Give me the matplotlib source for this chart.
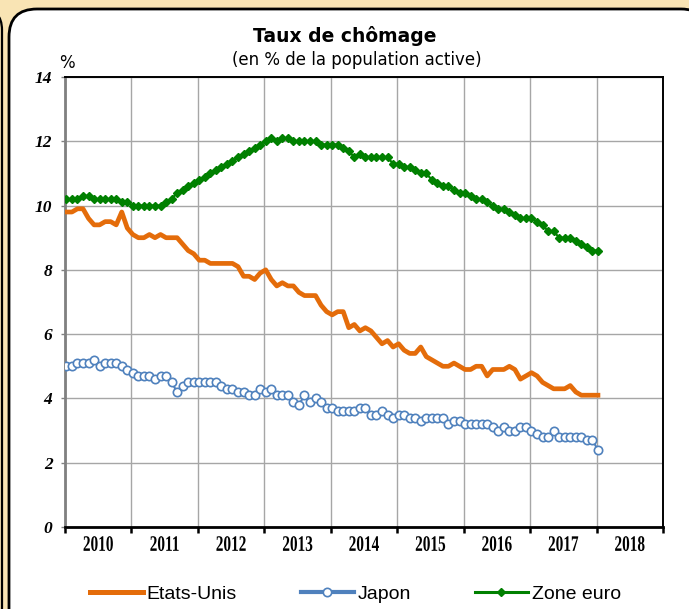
import numpy as np
import matplotlib
matplotlib.use('Agg')
import matplotlib.pyplot as plt
from matplotlib.patches import FancyBboxPatch
from matplotlib.lines import Line2D
from matplotlib.patheffects import AbstractPathEffect
from matplotlib.transforms import Affine2D, blended_transform_factory

# Taux de chômage mensuel, janv. 2010 -> janv. 2018
etats_unis = [9.8, 9.8, 9.9, 9.9, 9.6, 9.4, 9.4, 9.5, 9.5, 9.4, 9.8, 9.3,
              9.1, 9.0, 9.0, 9.1, 9.0, 9.1, 9.0, 9.0, 9.0, 8.8, 8.6, 8.5,
              8.3, 8.3, 8.2, 8.2, 8.2, 8.2, 8.2, 8.1, 7.8, 7.8, 7.7, 7.9,
              8.0, 7.7, 7.5, 7.6, 7.5, 7.5, 7.3, 7.2, 7.2, 7.2, 6.9, 6.7,
              6.6, 6.7, 6.7, 6.2, 6.3, 6.1, 6.2, 6.1, 5.9, 5.7, 5.8, 5.6,
              5.7, 5.5, 5.4, 5.4, 5.6, 5.3, 5.2, 5.1, 5.0, 5.0, 5.1, 5.0,
              4.9, 4.9, 5.0, 5.0, 4.7, 4.9, 4.9, 4.9, 5.0, 4.9, 4.6, 4.7,
              4.8, 4.7, 4.5, 4.4, 4.3, 4.3, 4.3, 4.4, 4.2, 4.1, 4.1, 4.1,
              4.1]
japon = [5.0, 5.0, 5.1, 5.1, 5.1, 5.2, 5.0, 5.1, 5.1, 5.1, 5.0, 4.9,
         4.8, 4.7, 4.7, 4.7, 4.6, 4.7, 4.7, 4.5, 4.2, 4.4, 4.5, 4.5,
         4.5, 4.5, 4.5, 4.5, 4.4, 4.3, 4.3, 4.2, 4.2, 4.1, 4.1, 4.3,
         4.2, 4.3, 4.1, 4.1, 4.1, 3.9, 3.8, 4.1, 3.9, 4.0, 3.9, 3.7,
         3.7, 3.6, 3.6, 3.6, 3.6, 3.7, 3.7, 3.5, 3.5, 3.6, 3.5, 3.4,
         3.5, 3.5, 3.4, 3.4, 3.3, 3.4, 3.4, 3.4, 3.4, 3.2, 3.3, 3.3,
         3.2, 3.2, 3.2, 3.2, 3.2, 3.1, 3.0, 3.1, 3.0, 3.0, 3.1, 3.1,
         3.0, 2.9, 2.8, 2.8, 3.0, 2.8, 2.8, 2.8, 2.8, 2.8, 2.7, 2.7,
         2.4]
zone_euro = [10.2, 10.2, 10.2, 10.3, 10.3, 10.2, 10.2, 10.2, 10.2, 10.2, 10.1, 10.1,
             10.0, 10.0, 10.0, 10.0, 10.0, 10.0, 10.1, 10.2, 10.4, 10.5, 10.6, 10.7,
             10.8, 10.9, 11.0, 11.1, 11.2, 11.3, 11.4, 11.5, 11.6, 11.7, 11.8, 11.9,
             12.0, 12.1, 12.0, 12.1, 12.1, 12.0, 12.0, 12.0, 12.0, 12.0, 11.9, 11.9,
             11.9, 11.9, 11.8, 11.7, 11.5, 11.6, 11.5, 11.5, 11.5, 11.5, 11.5, 11.3,
             11.3, 11.2, 11.2, 11.1, 11.0, 11.0, 10.8, 10.7, 10.6, 10.6, 10.5, 10.4,
             10.4, 10.3, 10.2, 10.2, 10.1, 10.0, 9.9, 9.9, 9.8, 9.7, 9.6, 9.6,
             9.6, 9.5, 9.4, 9.2, 9.2, 9.0, 9.0, 9.0, 8.9, 8.8, 8.7, 8.6,
             8.6]
annees = [2010, 2011, 2012, 2013, 2014, 2015, 2016, 2017, 2018]


class VStretch(AbstractPathEffect):
    # etire le texte verticalement (police condensee de l'original)
    def __init__(self, s):
        super().__init__()
        self.s = s

    def draw_path(self, renderer, gc, tpath, affine, rgbFace=None):
        renderer.draw_path(gc, tpath, Affine2D().scale(1, self.s) + affine, rgbFace)


beige = '#F9E4B4'
orange = '#E46C0A'
bleu = '#4F81BD'
vert = '#008000'

fig = plt.figure(figsize=(6.89, 6.09), dpi=100, facecolor=beige)

# cadre arrondi
bg = fig.add_axes([0, 0, 1, 1], zorder=-1)
bg.set_xlim(0, 689)
bg.set_ylim(609, 0)
bg.axis('off')
bg.add_patch(FancyBboxPatch((-300, 8), 302, 700, boxstyle='round,pad=0,rounding_size=22',
                            fc=beige, ec='black', lw=1.6))
bg.add_patch(FancyBboxPatch((9, 9), 700, 640, boxstyle='round,pad=0,rounding_size=28',
                            fc='white', ec='black', lw=2))

ax = fig.add_axes([65 / 689, 82 / 609, 598 / 689, 450 / 609])
x = 2010 + (np.arange(len(etats_unis)) + 0.25) / 12

ax.plot(x, etats_unis, color=orange, lw=3.4, solid_joinstyle='round', zorder=3)
ax.plot(x, japon, color=bleu, lw=1.5, marker='o', ms=6, mfc='white', mec=bleu, mew=1.2, zorder=4)
ax.plot(x, zone_euro, color=vert, lw=1.6, marker='D', ms=4, mfc=vert, mec=vert, zorder=3)

ax.set_xlim(2010, 2019)
ax.set_ylim(0, 14)
ax.set_xticks(range(2010, 2020))
ax.set_xticklabels([])
ax.set_yticks(range(0, 15, 2))
ax.set_yticklabels([str(v) for v in range(0, 15, 2)], family='Liberation Serif',
                   style='italic', weight='bold', fontsize=12.5)
ax.tick_params(axis='x', direction='out', length=4.5, width=1.8, color='black')
ax.tick_params(axis='y', direction='out', length=3, width=1, color='#808080', pad=6)
ax.grid(True, color='#A6A6A6', lw=1)
ax.set_axisbelow(True)
for s in ['top', 'right']:
    ax.spines[s].set_color('black')
    ax.spines[s].set_linewidth(1.4)
ax.spines['bottom'].set_color('black')
ax.spines['bottom'].set_linewidth(2)
ax.spines['left'].set_color('#808080')
ax.spines['left'].set_linewidth(2)

tr = blended_transform_factory(ax.transData, ax.transAxes)
for a in annees:
    ax.text(a + 0.5, -0.053, str(a), transform=tr, ha='center', va='baseline',
            family='Liberation Serif', weight='bold', fontsize=11,
            path_effects=[VStretch(1.45)])

fig.text(345 / 689, 1 - 36 / 609, 'Taux de chômage', ha='center', va='center',
         family='DejaVu Sans', weight='bold', fontsize=13.5)
fig.text(357 / 689, 1 - 60 / 609, '(en % de la population active)', ha='center', va='center',
         family='DejaVu Sans', fontsize=12)
fig.text(67 / 689, 1 - 63 / 609, '%', ha='center', va='center', family='DejaVu Sans', fontsize=12)

handles = [Line2D([], [], color=orange, lw=3.6),
           Line2D([], [], color=bleu, lw=3, marker='o', ms=6, mfc='white', mec=bleu, mew=1.2),
           Line2D([], [], color=vert, lw=2.2, marker='D', ms=4.5, mfc=vert, mec=vert)]
fig.legend(handles, ['Etats-Unis', 'Japon', 'Zone euro'], loc='center',
           bbox_to_anchor=(0.516, 15 / 609), ncol=3, frameon=False, handlelength=2.7,
           handletextpad=0.2, columnspacing=3.3,
           prop={'family': 'Liberation Sans', 'size': 14})

fig.savefig('out.png', dpi=100, facecolor=beige)
